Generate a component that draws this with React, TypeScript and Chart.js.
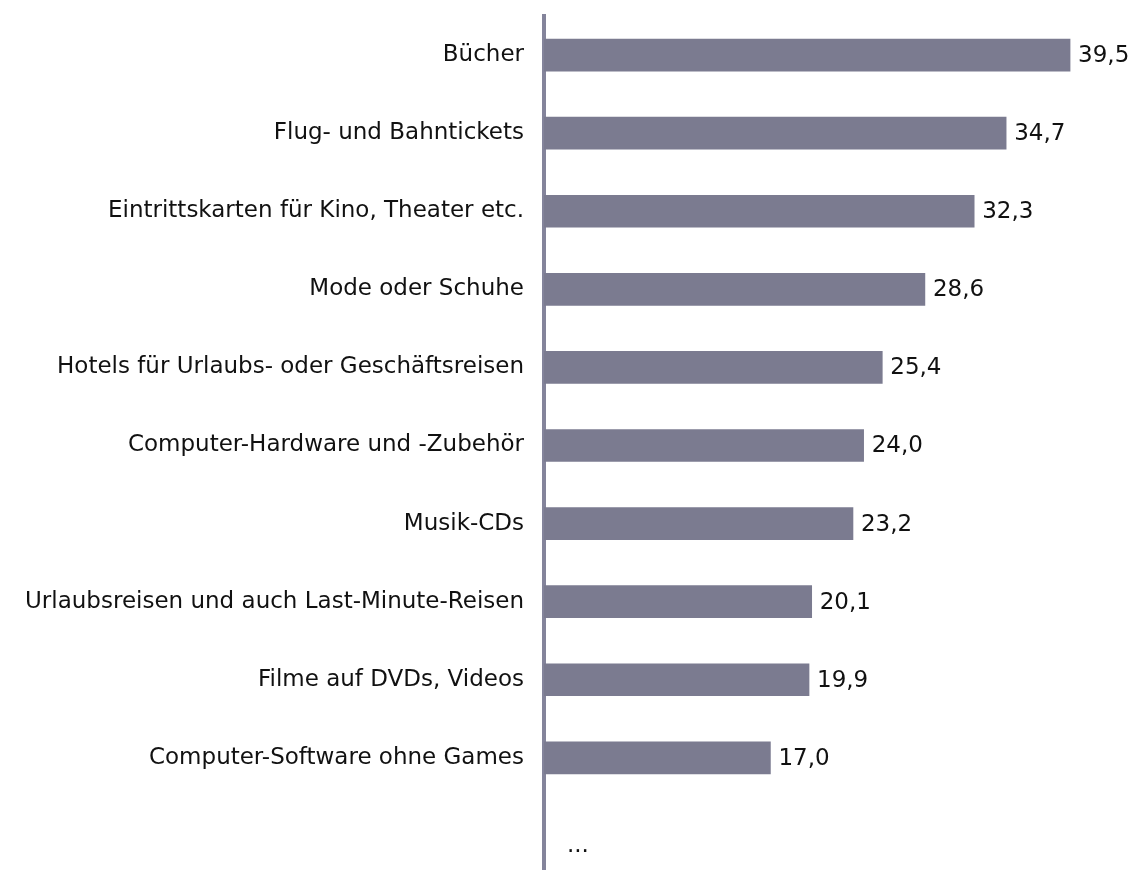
import React, { useEffect, useRef } from "react";
import { Chart, registerables } from "chart.js";

Chart.register(...registerables);

const categories: string[] = [
  "Bücher",
  "Flug- und Bahntickets",
  "Eintrittskarten für Kino, Theater etc.",
  "Mode oder Schuhe",
  "Hotels für Urlaubs- oder Geschäftsreisen",
  "Computer-Hardware und -Zubehör",
  "Musik-CDs",
  "Urlaubsreisen und auch Last-Minute-Reisen",
  "Filme auf DVDs, Videos",
  "Computer-Software ohne Games",
  "",
];

const values: (number | null)[] = [39.5, 34.7, 32.3, 28.6, 25.4, 24.0, 23.2, 20.1, 19.9, 17.0, null];

const ellipsisLabel = "...";

const FONT = "'DejaVu Sans', Verdana, sans-serif";
const BAR_COLOR = "#7b7b90";
const AXIS_COLOR = "#84849b";
const TEXT_COLOR = "#111111";
const FONT_SIZE = 23;

const valueLabelPlugin = {
  id: "valueLabels",
  afterDatasetsDraw(chart: any) {
    const ctx = chart.ctx;
    const meta = chart.getDatasetMeta(0);
    const xScale = chart.scales.x;
    const yScale = chart.scales.y;
    ctx.save();
    ctx.font = `${FONT_SIZE}px ${FONT}`;
    ctx.fillStyle = TEXT_COLOR;
    ctx.textAlign = "left";
    ctx.textBaseline = "middle";
    values.forEach((v, i) => {
      if (v === null) {
        const y = yScale.getPixelForValue(i);
        ctx.fillText(ellipsisLabel, xScale.getPixelForValue(0) + 23, y + 10);
        return;
      }
      const el = meta.data[i];
      ctx.fillText(v.toFixed(1).replace(".", ","), el.x + 8, el.y + 1);
    });
    ctx.restore();
  },
};

export default function App() {
  const canvasRef = useRef<HTMLCanvasElement | null>(null);

  useEffect(() => {
    document.body.style.margin = "0";
    document.body.style.overflow = "hidden";
    document.documentElement.style.overflow = "hidden";
    const canvas = canvasRef.current;
    if (!canvas) return;
    const chart = new Chart(canvas, {
      type: "bar",
      data: {
        labels: categories,
        datasets: [
          {
            data: values as any,
            backgroundColor: BAR_COLOR,
            borderWidth: 0,
            barThickness: 32,
          },
        ],
      },
      options: {
        indexAxis: "y",
        responsive: false,
        animation: false,
        layout: { padding: { top: 16, right: 2, bottom: 0, left: 0 } },
        plugins: {
          legend: { display: false },
          tooltip: { enabled: false },
          title: { display: false },
        },
        scales: {
          x: {
            display: false,
            min: 0,
            max: 44,
            grid: { display: false },
          },
          y: {
            z: 1,
            grid: { display: false, drawTicks: false },
            border: { display: true, color: AXIS_COLOR, width: 4 },
            ticks: {
              color: TEXT_COLOR,
              padding: 20,
              font: { family: FONT, size: FONT_SIZE },
            },
            afterFit: (scale: any) => {
              scale.width = 544;
              scale.paddingTop = 0;
              scale.paddingBottom = 0;
            },
          },
        },
      },
      plugins: [valueLabelPlugin],
    });
    return () => chart.destroy();
  }, []);

  return (
    <div style={{ width: 1132, height: 870, overflow: "hidden" }}>
      <canvas ref={canvasRef} width={1132} height={875} style={{ display: "block" }} />
    </div>
  );
}
